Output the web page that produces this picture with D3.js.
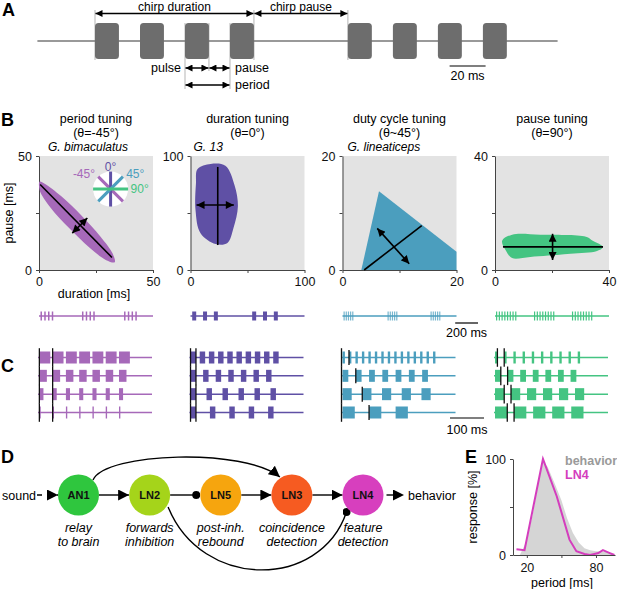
<!DOCTYPE html>
<html>
<head>
<meta charset="utf-8">
<script src="https://cdn.jsdelivr.net/npm/d3@7"></script>
<style>
  body { margin: 0; background: #fff; }
  text { font-family: "Liberation Sans", Arial, Helvetica, sans-serif; }
</style>
</head>
<body>
<svg id="fig" width="617" height="589"></svg>
<script>
// ---------- data ----------
// A: song schematic, times in ms
var songPulseOnsets = [0, 25, 50, 75, 140.5, 165.5, 190.5, 215.5]
var songPulseDur = 13.3
var songLineRange = [-32, 257]
var songScaleBar = [197, 217]   // 20 ms

// B: tuning maps (duration, pause in ms)
var tuningTitles = ["period tuning", "duration tuning", "duty cycle tuning", "pause tuning"]
var tuningAngles = ["(θ=-45°)", "(θ=0°)", "(θ~45°)", "(θ=90°)"]
var tuningSpecies = ["G. bimaculatus", "G. 13", "G. lineaticeps", ""]
var tuningMax = [50, 100, 20, 40]
var tuningColors = ["#a669b9", "#5f50a5", "#4b9ebe", "#44c482"]

var periodShape = [[33.2, 3.4], [32.3, 7.2], [27.0, 14.6], [18.7, 23.8], [9.8, 32.3], [2.5, 37.8], [0.3, 38.8], [0.3, 35.0], [5.0, 27.4], [13.3, 18.3], [22.2, 9.8], [29.5, 4.3]]
var durationShape = [[6.2, 88.5], [17.7, 93], [30.6, 91.4], [38.7, 74.2], [41.6, 56.1], [37.7, 36.8], [32.4, 23.7], [22.1, 22.8], [8.8, 32.3], [4.4, 52.6], [4.8, 75.9]]
var dutyShape = [[3.3, 0], [6.4, 13.8], [20, 3.2], [20, 0]]
var pauseShape = [[2.5, 10.3], [6.0, 12.4], [15.9, 12.4], [31.9, 11.7], [34.3, 10.3], [37.9, 8.1], [35.8, 6.7], [26.5, 5.7], [12.4, 4.6], [6.0, 4.2], [3.9, 6.7]]
var tuningShapes = [periodShape, durationShape, dutyShape, pauseShape]
var tuningLines = [[[0.5, 37.5], [32, 5.5]], [[23.9, 90.4], [23.9, 21.9]], [[3.8, 0], [13.9, 7.8]], [[2.8, 8.1], [37.9, 8.1]]]
var tuningArrows = [[[14.6, 16.2], [21.2, 22.8]], [[5.3, 57], [38, 57]], [[6.1, 7.3], [11.7, 1.1]], [[20.2, 12.7], [20.2, 3.5]]]

// inset of angles in the period tuning map
var insetAngles = [-45, 0, 45, 90]
var insetLabels = ["-45°", "0°", "45°", "90°"]
var insetColors = ["#a669b9", "#5f50a5", "#4b9ebe", "#44c482"]
var insetCenter = [31.4, 35.5]

// B: song examples (ms)
var trainChirpOnsets = [[13, 377, 746], [15, 541], [9, 395, 772], [9, 342, 675]]
var trainPulsesPerChirp = [4, 3, 5, 8]
var trainPulsePeriod = [33, 95, 19, 24]
var trainPulseDur = [13, 35, 7, 10]

// C: test stimuli (ms), 4 rows per map
var cOnset = [4, 3, 3, 3]
var cPulseDur = [[32, 22, 12, 4], [16, 16, 16, 16], [7, 17, 27, 36], [7, 17, 27, 36]]
var cPulsePeriod = [[39, 39, 39, 39], [27, 37, 47, 57], [19, 39, 58, 78], [27, 37, 47, 56]]
var cPulseCount = [[7, 7, 7, 7], [10, 7, 6, 5], [15, 7, 5, 3], [10, 7, 6, 5]]
var cMarkers = [
  [[4, 43], [4, 43], [4, 43], [4, 43]],
  [[3, 19], [3, 19], [3, 19], [3, 19]],
  [[0, 22], [0, 42], [0, 61], [0, 81]],
  [[10, 30], [20, 40], [30, 50], [39, 59]]
]

// D: circuit
var nodeNames = ["AN1", "LN2", "LN5", "LN3", "LN4"]
var nodeColors = ["#2fc63e", "#a5d41a", "#f6a50e", "#f65b21", "#d73fbe"]
var nodeRole1 = ["relay", "forwards", "post-inh.", "coincidence", "feature"]
var nodeRole2 = ["to brain", "inhibition", "rebound", "detection", "detection"]
var edges = [["AN1", "LN2", "arrow"], ["LN2", "LN5", "dot"], ["LN5", "LN3", "arrow"], ["LN3", "LN4", "arrow"]]

// E: period tuning
var behaviorPeriod = [14, 20, 25, 30, 34, 38, 44, 50, 55, 60, 65, 70, 75, 80, 85, 90, 95]
var behaviorResp = [0, 15, 42, 75, 97, 92, 75, 57, 38, 23, 13, 7, 5, 4, 4, 3, 1]
var ln4Period = [11, 18, 34, 46, 57, 63, 70, 75, 82, 86, 92, 96]
var ln4Resp = [6, 5, 100, 61, 16, 4, 1, 0, 2, 5, 2, 0]

// ---------- layout ----------
var svg = d3.select("#fig")
var fs = 12.5
var panelLeft = [39, 190.5, 342.5, 495]
var panelW = 114
var boxTop = 156, boxBottom = 270

var defs = svg.append("defs")
function addArrow(id, w, h) {
  defs.append("marker").attr("id", id)
    .attr("viewBox", "0 0 10 10").attr("refX", 10).attr("refY", 5)
    .attr("markerWidth", w).attr("markerHeight", h)
    .attr("markerUnits", "userSpaceOnUse")
    .attr("orient", "auto-start-reverse")
    .append("path").attr("d", "M0,0L10,5L0,10z").attr("fill", "#000")
}
addArrow("arr", 8, 7)
addArrow("arrB", 9, 8)
addArrow("arrD", 11, 11)
defs.append("marker").attr("id", "dot")
  .attr("viewBox", "0 0 10 10").attr("refX", 5).attr("refY", 5)
  .attr("markerWidth", 8).attr("markerHeight", 8)
  .attr("markerUnits", "userSpaceOnUse")
  .append("circle").attr("cx", 5).attr("cy", 5).attr("r", 5).attr("fill", "#000")

function panelLetter(t, x, y) {
  svg.append("text").attr("x", x).attr("y", y).attr("font-size", 18)
    .attr("font-weight", "bold").text(t)
}

// ---------- A ----------
panelLetter("A", 2, 16)
var xA = d3.scaleLinear().domain([0, 20]).range([95, 131])
var gA = svg.append("g")
var chirpEnd = songPulseOnsets[3] + songPulseDur
var guides = [
  [songPulseOnsets[0], 10, 60], [chirpEnd, 10, 60], [songPulseOnsets[4], 10, 60],
  [songPulseOnsets[2], 23, 89], [songPulseOnsets[2] + songPulseDur, 23, 71], [songPulseOnsets[3], 23, 89]
]
gA.selectAll(".guide").data(guides).enter().append("line")
  .attr("x1", d => xA(d[0])).attr("x2", d => xA(d[0]))
  .attr("y1", d => d[1]).attr("y2", d => d[2])
  .attr("stroke", "#b5b5b5").attr("stroke-width", 1)
gA.append("line").attr("x1", xA(songLineRange[0])).attr("x2", xA(songLineRange[1]))
  .attr("y1", 41).attr("y2", 41).attr("stroke", "#777").attr("stroke-width", 1.5)
gA.selectAll(".pulse").data(songPulseOnsets).enter().append("rect")
  .attr("x", d => xA(d)).attr("width", xA(songPulseDur) - xA(0))
  .attr("y", 23).attr("height", 36).attr("rx", 3.5)
  .attr("fill", "#6d6d6d")

var songArrows = [
  [songPulseOnsets[0], chirpEnd, 13.5],
  [chirpEnd, songPulseOnsets[4], 13.5],
  [songPulseOnsets[2], songPulseOnsets[2] + songPulseDur, 68],
  [songPulseOnsets[2] + songPulseDur, songPulseOnsets[3], 68],
  [songPulseOnsets[2], songPulseOnsets[3], 85]
]
gA.selectAll(".darr").data(songArrows).enter().append("line")
  .attr("x1", d => xA(d[0]) + 0.5).attr("x2", d => xA(d[1]) - 0.5)
  .attr("y1", d => d[2]).attr("y2", d => d[2])
  .attr("stroke", "#000").attr("stroke-width", 1.5)
  .attr("marker-start", "url(#arr)").attr("marker-end", "url(#arr)")

gA.append("text").attr("x", (xA(songPulseOnsets[0]) + xA(chirpEnd)) / 2).attr("y", 10.5)
  .attr("text-anchor", "middle").attr("font-size", 12).text("chirp duration")
gA.append("text").attr("x", (xA(chirpEnd) + xA(songPulseOnsets[4])) / 2).attr("y", 10.5)
  .attr("text-anchor", "middle").attr("font-size", 12).text("chirp pause")
gA.append("text").attr("x", xA(songPulseOnsets[2]) - 4).attr("y", 72)
  .attr("text-anchor", "end").attr("font-size", fs).text("pulse")
gA.append("text").attr("x", xA(songPulseOnsets[3]) + 5).attr("y", 72)
  .attr("font-size", fs).text("pause")
gA.append("text").attr("x", xA(songPulseOnsets[3]) + 5).attr("y", 89)
  .attr("font-size", fs).text("period")
gA.append("line").attr("x1", xA(songScaleBar[0])).attr("x2", xA(songScaleBar[1]))
  .attr("y1", 66).attr("y2", 66).attr("stroke", "#000").attr("stroke-width", 1.2)
gA.append("text").attr("x", (xA(songScaleBar[0]) + xA(songScaleBar[1])) / 2).attr("y", 80)
  .attr("text-anchor", "middle").attr("font-size", fs).text("20 ms")

// ---------- B ----------
panelLetter("B", 1, 126)
var speciesOffset = [9, 3, 5, 0]
tuningTitles.forEach((title, i) => {
  var max = tuningMax[i]
  var left = panelLeft[i]
  var x = d3.scaleLinear().domain([0, max]).range([left, left + panelW])
  var y = d3.scaleLinear().domain([0, max]).range([boxBottom, boxTop])
  var g = svg.append("g")
  var cx = left + panelW / 2

  g.append("text").attr("x", cx).attr("y", 123).attr("text-anchor", "middle").attr("font-size", fs).text(title)
  g.append("text").attr("x", cx).attr("y", 137).attr("text-anchor", "middle").attr("font-size", fs).text(tuningAngles[i])
  g.append("text").attr("x", left + speciesOffset[i]).attr("y", 151).attr("font-size", 12)
    .attr("font-style", "italic").text(tuningSpecies[i])

  g.append("rect").attr("x", left).attr("y", boxTop).attr("width", panelW).attr("height", boxBottom - boxTop)
    .attr("fill", "#e3e3e3")

  var fmt = d => (d === max / 2 ? "" : d)
  var xa = g.append("g").attr("transform", "translate(0," + boxBottom + ")")
    .call(d3.axisBottom(x).tickValues([0, max / 2, max]).tickSize(3).tickSizeOuter(0).tickPadding(4).tickFormat(fmt))
  var ya = g.append("g").attr("transform", "translate(" + left + ",0)")
    .call(d3.axisLeft(y).tickValues([0, max / 2, max]).tickSize(3).tickSizeOuter(0).tickPadding(4).tickFormat(fmt))
  ;[xa, ya].forEach(a => {
    a.selectAll("text").attr("font-size", fs).attr("fill", "#111").attr("font-family", null)
    a.selectAll("path,line").attr("stroke", "#444")
  })

  var shapeLine = d3.line().x(d => x(d[0])).y(d => y(d[1]))
    .curve(i === 2 ? d3.curveLinearClosed : d3.curveCatmullRomClosed.alpha(0.5))
  g.append("path").attr("d", shapeLine(tuningShapes[i])).attr("fill", tuningColors[i])

  var ln = tuningLines[i]
  g.append("line").attr("x1", x(ln[0][0])).attr("y1", y(ln[0][1])).attr("x2", x(ln[1][0])).attr("y2", y(ln[1][1]))
    .attr("stroke", "#000").attr("stroke-width", 1.6)
  var ar = tuningArrows[i]
  g.append("line").attr("x1", x(ar[0][0])).attr("y1", y(ar[0][1])).attr("x2", x(ar[1][0])).attr("y2", y(ar[1][1]))
    .attr("stroke", "#000").attr("stroke-width", 1.6)
    .attr("marker-start", "url(#arrB)").attr("marker-end", "url(#arrB)")

  if (i === 0) {
    g.append("text").attr("transform", "translate(13," + ((boxTop + boxBottom) / 2) + ") rotate(-90)")
      .attr("text-anchor", "middle").attr("font-size", fs).text("pause [ms]")
    g.append("text").attr("x", cx - 2).attr("y", 298).attr("text-anchor", "middle").attr("font-size", fs).text("duration [ms]")

    // angle inset
    var icx = x(insetCenter[0]), icy = y(insetCenter[1]), r = 17.5
    g.append("circle").attr("cx", icx).attr("cy", icy).attr("r", r).attr("fill", "#fff")
    insetAngles.forEach((a, k) => {
      var dx = Math.sin(a * Math.PI / 180), dy = -Math.cos(a * Math.PI / 180)
      g.append("line").attr("x1", icx - dx * r).attr("y1", icy - dy * r)
        .attr("x2", icx + dx * r).attr("y2", icy + dy * r)
        .attr("stroke", insetColors[k]).attr("stroke-width", 3)
    })
    insetAngles.forEach((a, k) => {
      var dx = Math.sin(a * Math.PI / 180), dy = -Math.cos(a * Math.PI / 180)
      var lr = a === 90 ? 20 : 22
      g.append("text").attr("x", icx + dx * lr).attr("y", icy + dy * lr + 4)
        .attr("text-anchor", a < 0 ? "end" : a === 0 ? "middle" : "start")
        .attr("font-size", 12).attr("fill", insetColors[k]).text(insetLabels[k])
    })
  }

  // song example below the map
  var xt = d3.scaleLinear().domain([0, 1000]).range([left, left + panelW])
  var pulses = []
  trainChirpOnsets[i].forEach(o => {
    for (var k = 0; k < trainPulsesPerChirp[i]; k++) pulses.push(o + k * trainPulsePeriod[i])
  })
  g.append("line").attr("x1", xt(0)).attr("x2", xt(1000)).attr("y1", 316).attr("y2", 316)
    .attr("stroke", tuningColors[i]).attr("stroke-width", 1.5)
  g.selectAll(".tp").data(pulses).enter().append("rect")
    .attr("x", d => xt(d)).attr("width", Math.max(1.2, xt(trainPulseDur[i]) - xt(0)))
    .attr("y", 311.5).attr("height", 9)
    .attr("fill", tuningColors[i]).attr("opacity", i === 2 ? 0.75 : 1)

  // C stimuli
  var xc = d3.scaleLinear().domain([0, 335]).range([left - 1, left - 1 + panelW])
  var rowY = d3.scalePoint().domain([0, 1, 2, 3]).range([357.5, 412.5])
  var gc = svg.append("g")
  cPulseDur[i].forEach((dur, row) => {
    var yy = rowY(row)
    gc.append("line").attr("x1", xc(0)).attr("x2", xc(335)).attr("y1", yy).attr("y2", yy)
      .attr("stroke", tuningColors[i]).attr("stroke-width", 1.5)
    var on = []
    for (var k = 0; k < cPulseCount[i][row]; k++) on.push(cOnset[i] + k * cPulsePeriod[i][row])
    gc.selectAll(".cp" + row).data(on).enter().append("rect")
      .attr("x", d => xc(d)).attr("width", Math.max(1.2, xc(dur) - xc(0)))
      .attr("y", yy - 6).attr("height", 12).attr("fill", tuningColors[i])
  })
  cMarkers[i].forEach((m, row) => {
    var yy = rowY(row)
    m.forEach((t, k) => {
      var h = (i === 2 && k === 1) ? 7.5 : 9.3
      gc.append("line").attr("x1", xc(t)).attr("x2", xc(t)).attr("y1", yy - h).attr("y2", yy + h)
        .attr("stroke", "#111").attr("stroke-width", 1.3)
    })
  })

  if (i === 2) {
    var bar200 = xt(200) - xt(0)
    svg.append("line").attr("x1", 478 - bar200).attr("x2", 478).attr("y1", 323).attr("y2", 323)
      .attr("stroke", "#000").attr("stroke-width", 1.2)
    svg.append("text").attr("x", 478 - bar200 / 2).attr("y", 337).attr("text-anchor", "middle")
      .attr("font-size", fs).text("200 ms")
    var bar100 = xc(100) - xc(0)
    svg.append("line").attr("x1", 484 - bar100).attr("x2", 484).attr("y1", 418).attr("y2", 418)
      .attr("stroke", "#000").attr("stroke-width", 1.2)
    svg.append("text").attr("x", 484 - bar100 / 2).attr("y", 434).attr("text-anchor", "middle")
      .attr("font-size", fs).text("100 ms")
  }
})
panelLetter("C", 1, 372)

// ---------- D ----------
panelLetter("D", 1, 463)
var nodeX = d3.scalePoint().domain(nodeNames).range([78.5, 363])
var nodeY = 495, nodeR = 20.5
var gD = svg.append("g")

gD.append("text").attr("x", 2).attr("y", nodeY + 4.5).attr("font-size", fs).text("sound")
gD.append("line").attr("x1", 37).attr("x2", nodeX("AN1") - nodeR).attr("y1", nodeY).attr("y2", nodeY)
  .attr("stroke", "#000").attr("stroke-width", 1.4).attr("stroke-dasharray", "5,5")
  .attr("marker-end", "url(#arrD)")

edges.forEach(e => {
  var x1 = nodeX(e[0]) + nodeR, x2 = nodeX(e[1]) - nodeR
  if (e[2] === "dot") x2 -= 4
  gD.append("line").attr("x1", x1).attr("x2", x2).attr("y1", nodeY).attr("y2", nodeY)
    .attr("stroke", "#000").attr("stroke-width", 1.4)
    .attr("marker-end", e[2] === "dot" ? "url(#dot)" : "url(#arrD)")
})

// long-range connections
var a0 = nodeX("AN1"), a3 = nodeX("LN3"), l2 = nodeX("LN2"), l4 = nodeX("LN4")
var upper = d3.path()
upper.moveTo(a0 + 14.5, nodeY - 15)
upper.bezierCurveTo(a0 + 27, nodeY - 43, a3 - 47, nodeY - 47, a3 - 12, nodeY - 18)
gD.append("path").attr("d", upper.toString()).attr("fill", "none")
  .attr("stroke", "#000").attr("stroke-width", 1.4).attr("marker-end", "url(#arrD)")
var lower = d3.path()
lower.moveTo(l2 + 18.5, nodeY + 12)
lower.bezierCurveTo(l2 + 52, nodeY + 95, l4 - 43, nodeY + 95, l4 - 16.5, nodeY + 17)
gD.append("path").attr("d", lower.toString()).attr("fill", "none")
  .attr("stroke", "#000").attr("stroke-width", 1.4).attr("marker-end", "url(#dot)")

gD.append("line").attr("x1", nodeX("LN4") + nodeR + 3).attr("x2", 404).attr("y1", nodeY).attr("y2", nodeY)
  .attr("stroke", "#000").attr("stroke-width", 1.4).attr("stroke-dasharray", "7,20")
  .attr("marker-end", "url(#arrD)")
gD.append("text").attr("x", 408).attr("y", nodeY + 4.5).attr("font-size", fs).text("behavior")

var nodes = gD.selectAll(".node").data(nodeNames).enter().append("g")
  .attr("transform", d => "translate(" + nodeX(d) + "," + nodeY + ")")
nodes.append("circle").attr("r", nodeR).attr("fill", (d, i) => nodeColors[i])
nodes.append("text").attr("y", 4).attr("text-anchor", "middle").attr("font-size", 11)
  .attr("font-weight", "bold").attr("fill", "#111").text(d => d)
nodes.append("text").attr("y", 37).attr("text-anchor", "middle").attr("font-size", fs)
  .attr("font-style", "italic").text((d, i) => nodeRole1[i])
nodes.append("text").attr("y", 51).attr("text-anchor", "middle").attr("font-size", fs)
  .attr("font-style", "italic").text((d, i) => nodeRole2[i])

// ---------- E ----------
panelLetter("E", 465, 463)
var xE = d3.scaleLinear().domain([8, 96.5]).range([513, 615])
var yE = d3.scaleLinear().domain([0, 100]).range([555, 459])
var gE = svg.append("g")
var behavior = behaviorPeriod.map((p, i) => [p, behaviorResp[i]])
var ln4 = ln4Period.map((p, i) => [p, ln4Resp[i]])
gE.append("path").attr("d", d3.area().x(d => xE(d[0])).y0(yE(0)).y1(d => yE(d[1]))(behavior))
  .attr("fill", "#d5d5d5")
gE.append("path").attr("d", d3.line().x(d => xE(d[0])).y(d => yE(d[1]))(ln4))
  .attr("fill", "none").attr("stroke", "#d43dbd").attr("stroke-width", 2)

var fmtE = d => (d === 50 ? "" : d)
var xaE = gE.append("g").attr("transform", "translate(0,555)")
  .call(d3.axisBottom(xE).tickValues([20, 50, 80]).tickSize(3).tickSizeOuter(0).tickPadding(5).tickFormat(fmtE))
var yaE = gE.append("g").attr("transform", "translate(513,0)")
  .call(d3.axisLeft(yE).tickValues([0, 50, 100]).tickSize(3).tickSizeOuter(0).tickPadding(4).tickFormat(fmtE))
;[xaE, yaE].forEach(a => {
  a.selectAll("text").attr("font-size", fs).attr("fill", "#111").attr("font-family", null)
  a.selectAll("path,line").attr("stroke", "#444")
})
gE.append("text").attr("transform", "translate(477,507) rotate(-90)").attr("text-anchor", "middle")
  .attr("font-size", fs).text("response [%]")
gE.append("text").attr("x", 562).attr("y", 587).attr("text-anchor", "middle")
  .attr("font-size", fs).text("period [ms]")
gE.append("text").attr("x", 565).attr("y", 465).attr("font-size", fs).attr("font-weight", "bold")
  .attr("fill", "#9a9a9a").text("behavior")
gE.append("text").attr("x", 565).attr("y", 479).attr("font-size", fs).attr("font-weight", "bold")
  .attr("fill", "#d43dbd").text("LN4")
</script>
</body>
</html>
